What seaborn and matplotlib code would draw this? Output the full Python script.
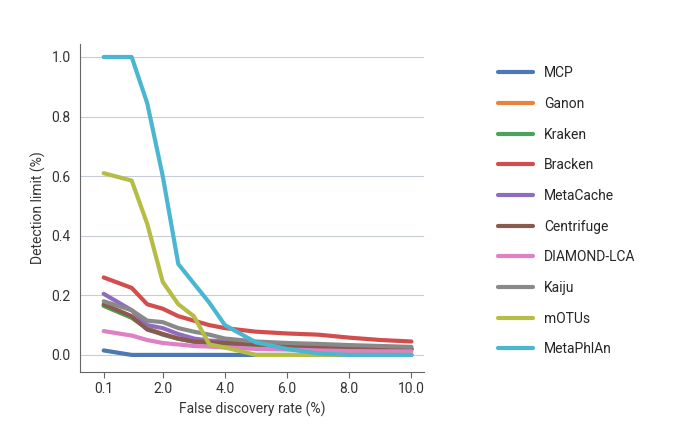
import matplotlib
matplotlib.use("Agg")
import matplotlib.pyplot as plt
import seaborn as sns
import pandas as pd

fdr = [0.1, 1.0, 1.5, 2.0, 2.5, 3.0, 3.5, 4.0, 5.0, 6.0, 7.0, 8.0, 9.0, 10.0]
tools = ["MCP", "Ganon", "Kraken", "Bracken", "MetaCache", "Centrifuge",
         "DIAMOND-LCA", "Kaiju", "mOTUs", "MetaPhlAn"]
colors = ["#4c78b5", "#e8833a", "#4aa35a", "#d24e4e", "#8f6cc0", "#8b5a4e",
          "#df80c6", "#898989", "#b5bd45", "#4bb6d0"]
values = {
    "MCP":        [0.015, 0.0, 0.0, 0.0, 0.0, 0.0, 0.0, 0.0, 0.0, 0.0, 0.0, 0.0, 0.0, 0.0],
    "Ganon":      [0.165, 0.125, 0.09, 0.07, 0.055, 0.045, 0.04, 0.038, 0.035, 0.03, 0.025, 0.02, 0.02, 0.02],
    "Kraken":     [0.165, 0.125, 0.088, 0.068, 0.054, 0.044, 0.04, 0.037, 0.033, 0.028, 0.024, 0.02, 0.019, 0.019],
    "Bracken":    [0.26, 0.225, 0.17, 0.155, 0.13, 0.115, 0.1, 0.09, 0.078, 0.072, 0.068, 0.058, 0.05, 0.045],
    "MetaCache":  [0.205, 0.15, 0.1, 0.09, 0.07, 0.055, 0.048, 0.045, 0.04, 0.035, 0.03, 0.025, 0.022, 0.02],
    "Centrifuge": [0.17, 0.13, 0.085, 0.07, 0.055, 0.045, 0.042, 0.04, 0.035, 0.03, 0.025, 0.022, 0.02, 0.02],
    "DIAMOND-LCA":[0.08, 0.065, 0.05, 0.04, 0.035, 0.03, 0.028, 0.025, 0.02, 0.018, 0.015, 0.013, 0.012, 0.012],
    "Kaiju":      [0.18, 0.15, 0.115, 0.11, 0.09, 0.078, 0.068, 0.055, 0.045, 0.04, 0.037, 0.033, 0.03, 0.027],
    "mOTUs":      [0.61, 0.585, 0.44, 0.245, 0.17, 0.13, 0.035, 0.025, 0.0, 0.0, 0.0, 0.0, 0.0, 0.0],
    "MetaPhlAn":  [1.0, 1.0, 0.845, 0.6, 0.305, 0.24, 0.175, 0.1, 0.042, 0.02, 0.005, 0.0, 0.0, 0.0],
}
xticks = [0.1, 2.0, 4.0, 6.0, 8.0, 10.0]

rows = [(t, x, v) for t in tools for x, v in zip(fdr, values[t])]
df = pd.DataFrame(rows, columns=["tool", "fdr", "limit"])

sns.set_style("white")
plt.rcParams["font.family"] = ["Roboto", "DejaVu Sans"]
fig = plt.figure(figsize=(6.87, 4.26), dpi=100)
ax = fig.add_axes([0.117, 0.127, 0.5, 0.77])
sns.lineplot(data=df, x="fdr", y="limit", hue="tool", hue_order=tools,
             palette=colors, linewidth=3, ax=ax)
ax.set_xlim(-0.65, 10.4)
ax.set_ylim(-0.057, 1.044)
ax.set_xticks(xticks)
ax.set_xticklabels([f"{t:.1f}" for t in xticks])
ax.set_yticks([0, 0.2, 0.4, 0.6, 0.8, 1.0])
ax.set_yticklabels(["0.0", "0.2", "0.4", "0.6", "0.8", "1.0"])
ax.yaxis.grid(True, color="#c8cbd8", linewidth=0.8)
ax.set_axisbelow(True)
for s in ["top", "right"]:
    ax.spines[s].set_visible(False)
for s in ["left", "bottom"]:
    ax.spines[s].set_color("#666666")
ax.tick_params(axis="x", bottom=True, length=4, color="#666666", labelsize=10, colors="#333333")
ax.tick_params(axis="y", labelsize=10, colors="#333333")
ax.set_xlabel("False discovery rate (%)", fontsize=10, color="#333333")
ax.set_ylabel("Detection limit (%)", fontsize=10, color="#333333")
ax.legend(loc="upper left", bbox_to_anchor=(1.18, 0.97), frameon=False,
          labelspacing=1.2, handlelength=2.5, fontsize=10, title=None)
fig.savefig("out.png", dpi=100)
